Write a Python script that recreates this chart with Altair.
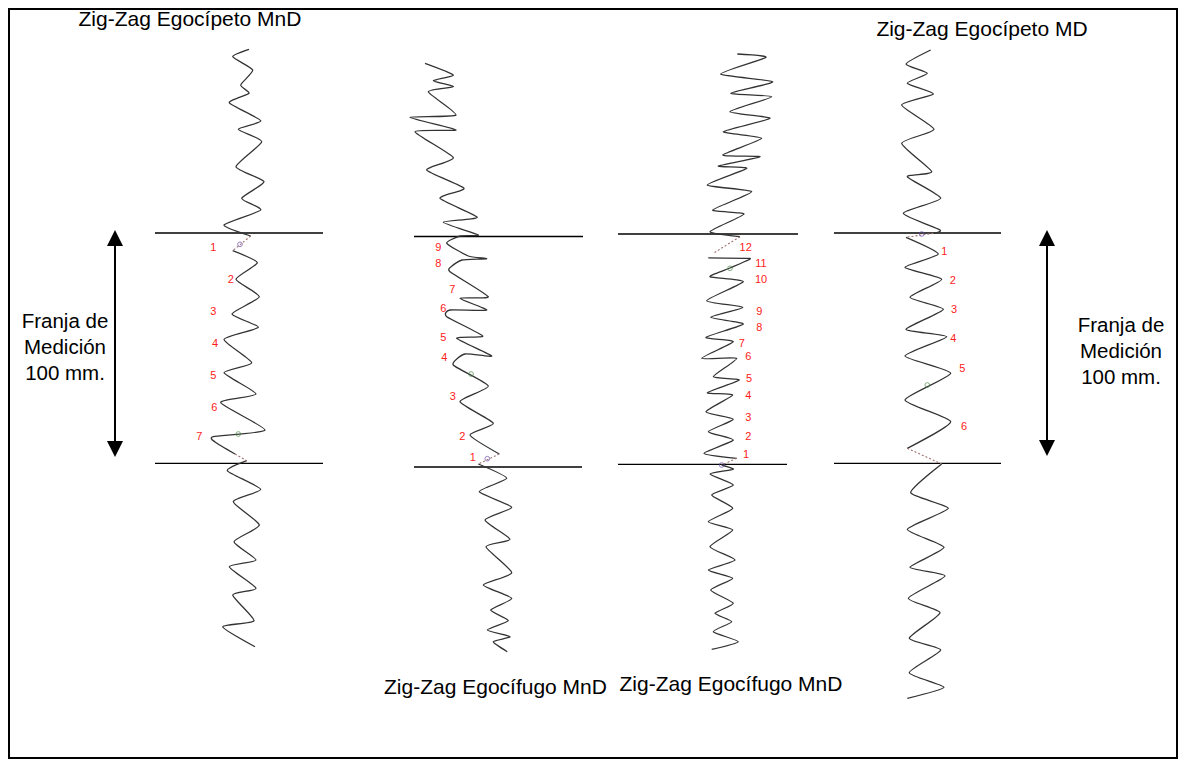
import altair as alt
import pandas as pd

# ---------------- data (page-pixel coordinates) ----------------
# Zig-zag 1 : "Egocípeto MnD"
Z1_TOP_X = [249, 232.7, 252.7, 240.7, 249, 229.3, 260.7, 238.3, 261.7, 236, 264, 241.7, 260.7, 224, 250.7]
Z1_TOP_Y = [49.3, 56.7, 70, 85, 93.3, 102.7, 120.7, 129.3, 141.7, 166.7, 181.7, 198.3, 210, 225, 236]
Z1_MID_X = [232.7, 257.3, 236, 259.3, 232, 258.3, 224, 251.7, 224, 256, 220.7, 265, 213.3, 215, 235]
Z1_MID_Y = [250.7, 262.7, 279.3, 296.7, 314, 327.3, 339.3, 362.7, 372.7, 394, 402.7, 430, 436.7, 442, 454]
Z1_BOT_X = [246.7, 227.3, 260.7, 233.3, 259.3, 234, 256, 229.3, 256, 232.7, 254, 222.7, 255]
Z1_BOT_Y = [460.7, 470.7, 489.3, 501.7, 525, 541.7, 560, 566.7, 588.3, 595, 620.7, 626.7, 646.7]

# Zig-zag 2 : "Egocífugo MnD" (left)
Z2_TOP_X = [425, 453.3, 433.3, 453.3, 428.3, 456, 410, 456, 415, 453.3, 426.7, 464, 440, 477.3, 443.3, 478.3,
            460, 446.7, 468.3, 486.7, 462, 452, 450, 488.3, 460, 486.7, 450, 446.7, 482.7, 456.7, 491.7, 465,
            453.3, 488.3, 460, 493.3, 470, 499.3]
Z2_TOP_Y = [63.3, 75, 80.7, 86.7, 91.7, 115, 117.3, 130, 131.7, 157.7, 170, 188.3, 198.3, 217.3, 222.3, 235,
            236, 243.3, 256, 258.7, 260, 266, 271.7, 296.7, 298.3, 310, 310, 316.7, 336, 338.3, 356, 354,
            365, 386, 401.7, 423.3, 435, 454]
Z2_BOT_X = [478.3, 506.7, 479.3, 511.7, 485, 510, 486, 511.7, 483.3, 511.7, 490.7, 508.3, 487.3, 510, 493.3, 507.3]
Z2_BOT_Y = [464, 478.3, 491.7, 507.3, 520, 539.3, 546.7, 572.7, 585, 598.3, 610, 620.7, 630, 636.7, 641.7, 651.7]

# Zig-zag 3 : "Egocífugo MnD" (right)
Z3_TOP_X = [737.3, 766, 720.7, 772.7, 730.7, 771.7, 730, 770, 723.3, 761.7, 722.7, 760, 718.3, 746.7, 707.3,
            751.7, 712.7, 744, 710, 740]
Z3_TOP_Y = [54, 57.3, 74, 81.7, 93.3, 96.7, 111.7, 118.3, 131.7, 138.3, 155, 156.7, 166, 168.3, 185,
            191.7, 210, 214, 231.7, 236.7]
Z3_MID_X = [708.3, 748.3, 748.3, 730, 710, 743.3, 706.7, 742.7, 710.7, 743.3, 706, 733.3, 701.7, 736.7, 713.3,
            739.3, 707.3, 732.7, 706, 733.3, 708.3, 733.3, 704, 736.7]
Z3_MID_Y = [257.8, 258.3, 260, 268, 276.7, 281.7, 300.7, 307.3, 317.3, 324, 337.3, 341.7, 358.3, 358.3, 376.7,
            380, 392.7, 395, 411.7, 419.3, 431.7, 440, 453.3, 458.3]
Z3_BOT_X = [721.7, 733.3, 710, 733.3, 711.7, 732.7, 708.3, 732.7, 710, 735, 708.3, 732.7, 710.7, 733.3, 715,
            731.7, 713.3, 738.3, 711.7]
Z3_BOT_Y = [465, 469.3, 474, 485, 495, 508.3, 521.7, 530, 546.7, 560, 570, 578.3, 590, 603.3, 613.3,
            621.7, 631.7, 641.7, 649.3]

# Zig-zag 4 : "Egocípeto MD"
Z4_TOP_X = [930.7, 906, 927.3, 907.3, 933.3, 901.7, 934, 901.7, 931.7, 907.3, 940.7, 903.3, 940, 933.3]
Z4_TOP_Y = [50, 64, 73.3, 83.3, 94, 105, 129.3, 143.3, 171.7, 176.7, 198.3, 213.3, 230, 233.3]
Z4_MID_X = [906, 938.3, 905, 941.7, 910, 943.3, 906, 946.7, 905, 950.7, 905, 950.7, 907.3]
Z4_MID_Y = [237.3, 254, 267.3, 279.3, 297.3, 309.3, 329.3, 336.7, 356, 373.3, 400, 421.7, 448.3]
Z4_BOT_X = [941.7, 910.7, 948.3, 907.3, 944, 910, 945, 908.3, 940, 909.3, 940.7, 909.3, 944, 907.3]
Z4_BOT_Y = [464, 492.7, 508.3, 529.3, 547.3, 567.3, 576, 598.3, 612.7, 638.3, 650, 672.7, 687.3, 698.3]

# dotted connectors where a trace crosses the band limits
DASH_X1 = [250.7, 235, 499.3, 740, 736.7, 933.3, 907.3]
DASH_Y1 = [236, 454, 454, 236.7, 458.3, 233.3, 448.3]
DASH_X2 = [232.7, 246.7, 478.3, 713.3, 721.7, 906, 941.7]
DASH_Y2 = [250.7, 460.7, 464, 253.3, 465, 237.3, 464]

# horizontal band limits
BAND_X1 = [155, 414, 618, 834, 155, 414, 618, 834]
BAND_X2 = [323, 583, 798, 1001, 323, 582, 787, 1001]
BAND_Y = [233, 236.5, 234, 233, 463.3, 467, 464.3, 463.3]

# small markers
MARK_X = [240, 487.3, 721.7, 921.7, 238.3, 471, 730, 927.3]
MARK_Y = [244.3, 458.7, 465, 234, 434, 374, 268.3, 385]
MARK_C = ["#6a4aa8"] * 4 + ["#4f8a4f"] * 4

# red count labels
NUM_T = ["1", "2", "3", "4", "5", "6", "7",
         "9", "8", "7", "6", "5", "4", "3", "2", "1",
         "12", "11", "10", "9", "8", "7", "6", "5", "4", "3", "2", "1",
         "1", "2", "3", "4", "5", "6"]
NUM_X = [213.3, 230.7, 213.3, 215, 213.3, 214.3, 199.3,
         438.3, 438.3, 452.3, 443.3, 443.3, 444.3, 452.7, 462.3, 472.7,
         745.7, 761, 761, 759.3, 759.3, 741.7, 748.3, 749, 748.3, 748.3, 748.3, 746,
         944.3, 952.7, 954, 953.3, 962.3, 964]
NUM_Y = [248.3, 280, 312.3, 344.3, 376, 408.3, 437.3,
         248.3, 264.3, 290, 309, 338.3, 357.7, 396.7, 436.7, 457.7,
         248.3, 264, 280, 311.7, 328.3, 344, 357.3, 379, 396, 418.3, 437.3, 455,
         251.7, 280.7, 310, 339, 369.3, 426.7]

# titles
TITLE_T = ["Zig-Zag Egocípeto MnD", "Zig-Zag Egocípeto MD", "Zig-Zag Egocífugo MnD", "Zig-Zag Egocífugo MnD"]
TITLE_X = [190, 982, 495.5, 731]
TITLE_Y = [20, 30, 688, 685]

# measurement-band annotation
BAND_TXT = ["Franja de", "Medición", "100 mm.", "Franja de", "Medición", "100 mm."]
BAND_TXT_X = [65, 65, 65, 1121, 1121, 1121]
BAND_TXT_Y = [322, 348, 374, 326, 352, 378]

ARROW_X = [115, 1047]
ARROW_TOP = [230, 230]
ARROW_BOT = [457, 456]

# ---------------- build tables ----------------
traces = [
    (Z1_TOP_X, Z1_TOP_Y), (Z1_MID_X, Z1_MID_Y), (Z1_BOT_X, Z1_BOT_Y),
    (Z2_TOP_X, Z2_TOP_Y), (Z2_BOT_X, Z2_BOT_Y),
    (Z3_TOP_X, Z3_TOP_Y), (Z3_MID_X, Z3_MID_Y), (Z3_BOT_X, Z3_BOT_Y),
    (Z4_TOP_X, Z4_TOP_Y), (Z4_MID_X, Z4_MID_Y), (Z4_BOT_X, Z4_BOT_Y),
]
rows = []
for s, (xs_, ys_) in enumerate(traces):
    for o, (a, b) in enumerate(zip(xs_, ys_)):
        rows.append({"x": a, "y": b, "seg": s, "o": o})
trace_df = pd.DataFrame(rows)

dash_df = pd.DataFrame({"x": DASH_X1, "y": DASH_Y1, "x2": DASH_X2, "y2": DASH_Y2})
band_df = pd.DataFrame({"x": BAND_X1, "x2": BAND_X2, "y": BAND_Y})
mark_df = pd.DataFrame({"x": MARK_X, "y": MARK_Y, "c": MARK_C})
num_df = pd.DataFrame({"t": NUM_T, "x": NUM_X, "y": NUM_Y})
title_df = pd.DataFrame({"t": TITLE_T, "x": TITLE_X, "y": TITLE_Y})
btxt_df = pd.DataFrame({"t": BAND_TXT, "x": BAND_TXT_X, "y": BAND_TXT_Y})
shaft_df = pd.DataFrame({"x": ARROW_X, "y": [t + 12 for t in ARROW_TOP], "y2": [b - 12 for b in ARROW_BOT]})
head_up_df = pd.DataFrame({"x": ARROW_X, "y": [t + 8 for t in ARROW_TOP]})
head_dn_df = pd.DataFrame({"x": ARROW_X, "y": [b - 8 for b in ARROW_BOT]})

XS = alt.Scale(domain=[9, 1177], nice=False, zero=False)
YS = alt.Scale(domain=[9, 758], nice=False, zero=False, reverse=True)
X = alt.X("x:Q", scale=XS, axis=None)
Y = alt.Y("y:Q", scale=YS, axis=None)
FONT = "Liberation Sans"

lines = alt.Chart(trace_df).mark_line(color="#333333", strokeWidth=1.3, strokeJoin="round",
                                      interpolate="cardinal", tension=0.45).encode(
    x=X, y=Y, detail="seg:N", order="o:Q")

dashes = alt.Chart(dash_df).mark_rule(color="#a07070", strokeWidth=1.1, strokeDash=[2, 2]).encode(
    x=X, y=Y, x2="x2:Q", y2="y2:Q")

bands = alt.Chart(band_df).mark_rule(color="black", strokeWidth=1.3).encode(x=X, x2="x2:Q", y=Y)

markers = alt.Chart(mark_df).mark_point(shape="circle", filled=False, size=22, strokeWidth=1).encode(
    x=X, y=Y, color=alt.Color("c:N", scale=None))

nums = alt.Chart(num_df).mark_text(font=FONT, fontSize=11, color="#ff1a1a", align="center",
                                   baseline="middle").encode(x=X, y=Y, text="t:N")

titles = alt.Chart(title_df).mark_text(font=FONT, fontSize=21, color="black", align="center",
                                       baseline="middle").encode(x=X, y=Y, text="t:N")

btxt = alt.Chart(btxt_df).mark_text(font=FONT, fontSize=20.5, color="black", align="center",
                                    baseline="middle").encode(x=X, y=Y, text="t:N")

shafts = alt.Chart(shaft_df).mark_rule(color="black", strokeWidth=2).encode(x=X, y=Y, y2="y2:Q")

heads_up = alt.Chart(head_up_df).mark_point(shape="M0,-1L1,1L-1,1Z", filled=True, size=256,
                                            color="black", opacity=1).encode(x=X, y=Y)
heads_dn = alt.Chart(head_dn_df).mark_point(shape="M0,1L1,-1L-1,-1Z", filled=True, size=256,
                                            color="black", opacity=1).encode(x=X, y=Y)

chart = alt.layer(bands, lines, dashes, markers, nums, titles, btxt, shafts, heads_up, heads_dn).properties(
    width=1168, height=749, padding=1, autosize=alt.AutoSizeParams(type="none"), background="white"
).configure_view(stroke="black", strokeWidth=2)

chart.save("out.html", embed_options={"renderer": "svg", "actions": False})
